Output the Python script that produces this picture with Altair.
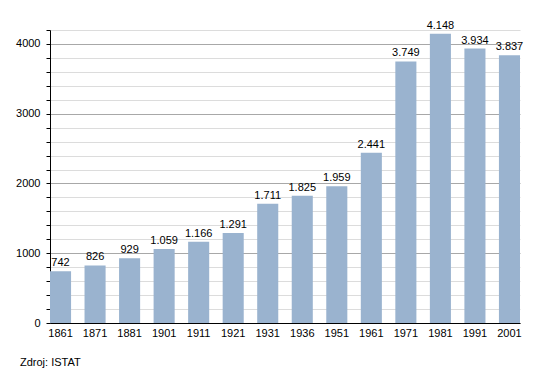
import altair as alt
import pandas as pd

years = ["1861", "1871", "1881", "1901", "1911", "1921", "1931", "1936",
         "1951", "1961", "1971", "1981", "1991", "2001"]
population = [742, 826, 929, 1059, 1166, 1291, 1711, 1825, 1959, 2441,
              3749, 4148, 3934, 3837]

df = pd.DataFrame({
    "year": years,
    "pop": population,
    "label": [f"{v:,}".replace(",", ".") for v in population],
})

FONT = "Liberation Sans"

x = alt.X("year:N", sort=years, title=None,
          scale=alt.Scale(paddingInner=0.39, paddingOuter=0),
          axis=alt.Axis(labelAngle=0, ticks=False, grid=False, domainColor="#000",
                        labelFont=FONT, labelFontSize=11, labelColor="#000",
                        labelPadding=4))
y = alt.Y("pop:Q", title=None,
          scale=alt.Scale(domain=[0, 4200], nice=False),
          axis=alt.Axis(values=list(range(0, 4201, 200)),
                        labelExpr="datum.value % 1000 === 0 ? datum.value : ''",
                        labelOverlap=False,
                        grid=True,
                        gridColor=alt.condition("datum.value % 1000 === 0",
                                                alt.value("#a8a8a8"), alt.value("#dcdcdc")),
                        ticks=True, tickSize=4, tickColor="#000", domainColor="#000",
                        labelFont=FONT, labelFontSize=11, labelColor="#000",
                        labelPadding=6))

bars = alt.Chart(df).mark_bar(color="#9ab3cf").encode(x=x, y=y)
text = alt.Chart(df).mark_text(dy=-8, font=FONT, fontSize=11, color="#000").encode(
    x=x, y=y, text="label:N")
source = alt.Chart(pd.DataFrame({"t": ["Zdroj: ISTAT"]})).mark_text(
    align="left", baseline="middle", font=FONT, fontSize=11, color="#000").encode(
    x=alt.value(-30), y=alt.value(333), text="t:N")

chart = alt.layer(bars, text, source).properties(
    width=470, height=293,
    autosize=alt.AutoSizeParams(type="none"),
    padding={"left": 42, "top": 22, "right": 5, "bottom": 48},
).configure_view(stroke=None)

chart.save("out.html", embed_options={"renderer": "svg", "actions": False})
